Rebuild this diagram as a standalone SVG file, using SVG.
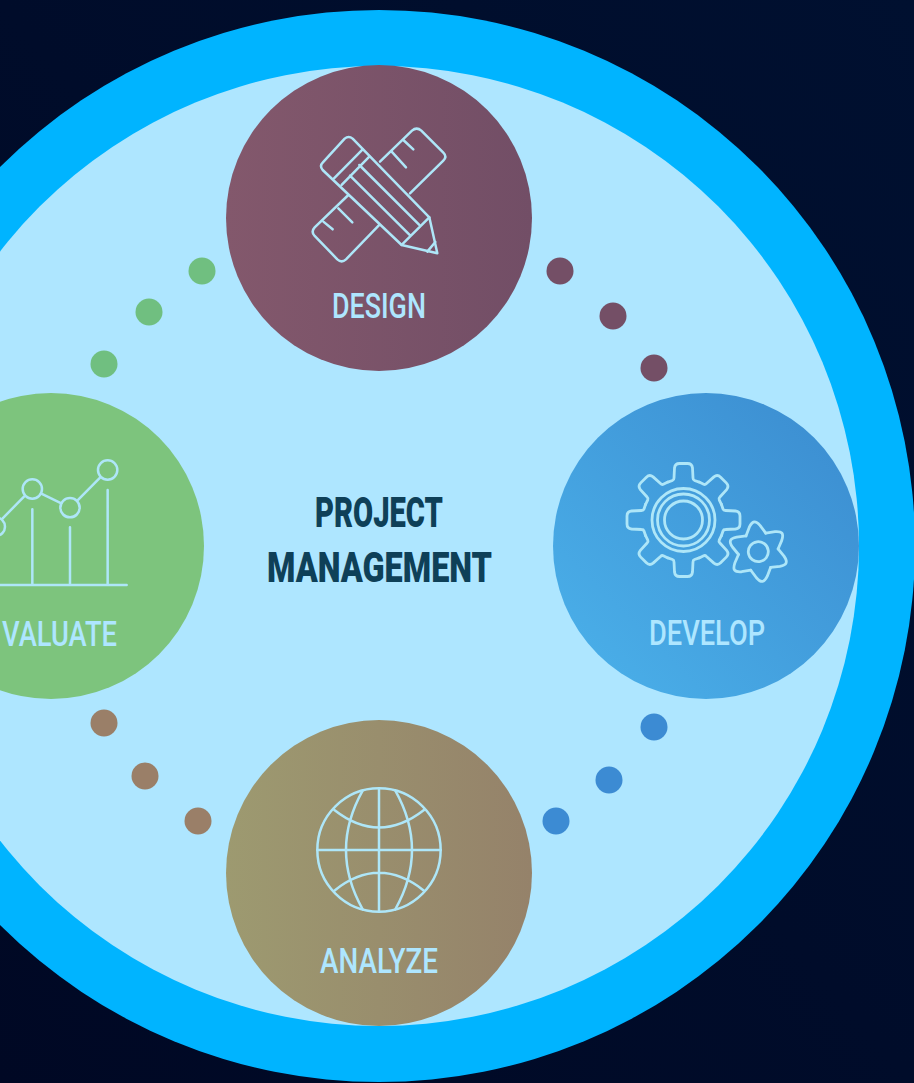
<svg xmlns="http://www.w3.org/2000/svg" width="914" height="1083" viewBox="0 0 914 1083">
<style>
.ic{fill:none;stroke:#aee6f8;stroke-linecap:round;stroke-linejoin:round}
.z{stroke-width:7.5}
.g{stroke-width:2.8}
.lb{font-family:Roboto,"Liberation Sans",sans-serif;font-size:35px;font-weight:500;fill:#aee6ff;text-anchor:start}
.tt{font-family:Roboto,"Liberation Sans",sans-serif;font-size:42px;font-weight:900;fill:#0e4058}
.dp{fill:#744f66}.db{fill:#3c8bd3}.dg{fill:#70bf80}.dt{fill:#9a7f68}
</style>
<defs>
<linearGradient id="bg" x1="0" y1="1" x2="1" y2="0"><stop offset="0" stop-color="#000824"/><stop offset="1" stop-color="#001030"/></linearGradient>
<linearGradient id="gd" x1="0" y1="0" x2="1" y2="0"><stop offset="0" stop-color="#83586c"/><stop offset="1" stop-color="#724e66"/></linearGradient>
<linearGradient id="gv" x1="0" y1="1" x2="1" y2="0"><stop offset="0" stop-color="#4bb2eb"/><stop offset="1" stop-color="#3b8bcf"/></linearGradient>
<linearGradient id="ga" x1="0" y1="0" x2="1" y2="0"><stop offset="0" stop-color="#9d9a70"/><stop offset="1" stop-color="#95826a"/></linearGradient>
<path id="t1" d="M-15.7-37.9L-11-39.5Q-9.5-40-9.5-42L-9-52Q-8.5-56.5-4-56.5L4-56.5Q8.5-56.5 9-52L9.5-42Q9.5-40 11-39.5L15.7-37.9"/>
<path id="t2" d="M-10-17.3L-5.5-25.5Q-2.5-30 0-30Q2.5-30 5.5-25.5L10-17.3"/>
</defs>
<rect id="background" width="914" height="1083" fill="url(#bg)"/>
<circle id="ring" cx="379" cy="546" r="536" fill="#00b4ff"/>
<circle id="disc" cx="379" cy="546" r="480" fill="#aee6ff"/>
<g id="connectors">
<circle class="dg" cx="202" cy="271" r="13.5"/><circle class="dg" cx="149" cy="312" r="13.5"/><circle class="dg" cx="104" cy="364" r="13.5"/>
<circle class="dp" cx="560" cy="271" r="13.5"/><circle class="dp" cx="613" cy="316" r="13.5"/><circle class="dp" cx="654" cy="368" r="13.5"/>
<circle class="db" cx="654" cy="727" r="13.5"/><circle class="db" cx="609" cy="780" r="13.5"/><circle class="db" cx="556" cy="821" r="13.5"/>
<circle class="dt" cx="104" cy="723" r="13.5"/><circle class="dt" cx="145" cy="776" r="13.5"/><circle class="dt" cx="198" cy="821" r="13.5"/>
</g>
<g id="design">
<circle cx="379" cy="218" r="153" fill="url(#gd)"/>
<g class="ic z" transform="translate(290 110) scale(.3333)">
<path d="M270 155L366 62Q380 50 394 62L460 128Q472 140 460 152L360 250"/>
<path d="M175 255L74 352Q62 365 74 378L142 448Q155 460 168 448L268 345"/>
<path d="M340 90L370 118M305 125L348 172M100 335L128 358M145 295L187 337"/>
<path d="M164 86Q176 76 188 86L418 322L442 430L335 405L98 180Q88 168 98 158Z"/>
<path d="M218 118L132 205M238 140L155 225M208 165L388 345M180 197L362 378M418 322L335 405M412 425L436 396"/>
</g>
<text class="lb" x="332" y="318" textLength="94" lengthAdjust="spacingAndGlyphs">DESIGN</text>
</g>
<g id="develop">
<circle cx="706" cy="546" r="153" fill="url(#gv)"/>
<g class="ic g" transform="translate(683.5 520)">
<use href="#t1"/><use href="#t1" transform="rotate(45)"/><use href="#t1" transform="rotate(90)"/><use href="#t1" transform="rotate(135)"/><use href="#t1" transform="rotate(180)"/><use href="#t1" transform="rotate(225)"/><use href="#t1" transform="rotate(270)"/><use href="#t1" transform="rotate(315)"/>
<circle r="31.5"/><circle r="26"/><circle r="19"/>
</g>
<g class="ic g" transform="translate(758.3 551.7) rotate(-8)">
<use href="#t2"/><use href="#t2" transform="rotate(60)"/><use href="#t2" transform="rotate(120)"/><use href="#t2" transform="rotate(180)"/><use href="#t2" transform="rotate(240)"/><use href="#t2" transform="rotate(300)"/>
<circle r="10"/>
</g>
<text class="lb" x="649" y="645" textLength="116" lengthAdjust="spacingAndGlyphs">DEVELOP</text>
</g>
<g id="analyze">
<circle cx="379" cy="873" r="153" fill="url(#ga)"/>
<g class="ic z" transform="translate(300 780) scale(.3333)">
<circle cx="237" cy="210" r="185"/>
<path d="M237 25V395M52 210H422M188 32Q88 210 188 388M286 32Q386 210 286 388M103 90Q237 195 372 90M103 332Q237 225 372 332"/>
</g>
<text class="lb" x="320" y="973" textLength="118" lengthAdjust="spacingAndGlyphs">ANALYZE</text>
</g>
<g id="evaluate">
<circle cx="51" cy="546" r="153" fill="#7dc47d"/>
<g class="ic z" transform="translate(0 450) scale(.3333)">
<circle cx="97" cy="117" r="29"/><circle cx="210" cy="173" r="29"/><circle cx="323" cy="60" r="29"/><circle cx="-13" cy="230" r="28"/>
<path d="M72 140L8 205M124 131L184 160M232 152L301 82M97 178V405M210 232V405M323 120V405M-10 405H380"/>
</g>
<text class="lb" x="2" y="646" textLength="115" lengthAdjust="spacingAndGlyphs">VALUATE</text>
</g>
<g id="title">
<text class="tt" x="315" y="527" textLength="128" lengthAdjust="spacingAndGlyphs">PROJECT</text>
<text class="tt" x="267" y="582" textLength="225" lengthAdjust="spacingAndGlyphs">MANAGEMENT</text>
</g>
</svg>
